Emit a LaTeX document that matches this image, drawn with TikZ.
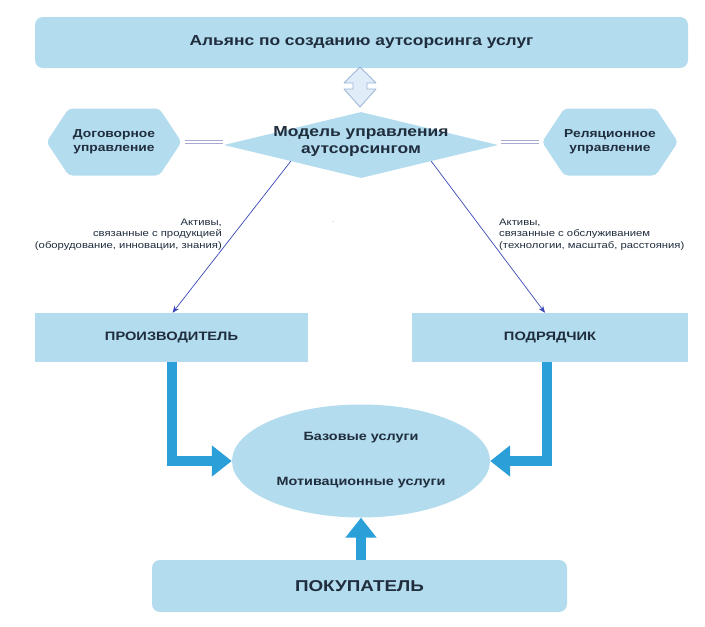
\documentclass[tikz,border=0pt]{standalone}
\usepackage{fontspec}
\setmainfont{Liberation Sans}[FakeStretch=1.2]
\usetikzlibrary{shapes.geometric,shapes.symbols,arrows.meta,calc}
\definecolor{boxfill}{HTML}{B3DCEE}
\definecolor{txt}{HTML}{1F2D3D}
\definecolor{thick}{HTML}{2A9FD8}
\definecolor{thin}{HTML}{3B46B8}
\definecolor{dlcol}{HTML}{A9A9D4}
\definecolor{hollowfill}{HTML}{E0ECF8}
\definecolor{hollowdraw}{HTML}{9BB5D6}
\begin{document}
\begin{tikzpicture}[x=1pt,y=-1pt,
  every node/.style={text=txt},
  roundbox/.style={fill=boxfill, rounded corners=8pt, inner sep=0pt},
  plainbox/.style={fill=boxfill, inner sep=0pt},
  hexbox/.style={signal, signal to=west and east, signal pointer angle=113, fill=boxfill, rounded corners=4pt, minimum width=135pt, minimum height=67pt, inner sep=0pt, align=center, font=\bfseries\fontsize{11.5}{14}\selectfont},
  smalllabel/.style={font=\fontsize{9.4}{11.2}\selectfont, inner sep=0pt},
  thinarrow/.style={draw=thin, line width=0.7pt, -{Stealth[length=7pt,width=5.5pt]}},
  thickarrow/.style={draw=thick, line width=10pt, -{Triangle[length=20pt,width=30pt]}},
  dline/.style={draw=dlcol, line width=0.8pt, double=white, double distance=2.2pt}
]
\useasboundingbox (0,0) rectangle (705,627);
\fill[white] (0,0) rectangle (705,627);

% top box
\node[roundbox, minimum width=653pt, minimum height=51pt, font=\bfseries\fontsize{14.5}{17}\selectfont] (top) at (361.5,42.5) {Альянс по созданию аутсорсинга услуг};

% diamond
\node[diamond, fill=boxfill, minimum width=274pt, minimum height=66pt, inner sep=0pt] (model) at (361,145) {};
\node[align=center, font=\bfseries\fontsize{14.5}{17}\selectfont, inner sep=0pt] (modeltext) at (361,142) {Модель управления\\аутсорсингом};

% hollow double arrow
\coordinate (ha) at (360,67);
\coordinate (hb) at (360,107);
\filldraw[fill=hollowfill, draw=hollowdraw, line width=0.8pt, line join=round]
  (ha) -- ($(ha)+(16,16)$) -- ($(ha)+(7,16)$) -- ($(hb)+(7,-18)$) -- ($(hb)+(16,-18)$) -- (hb)
  -- ($(hb)+(-16,-18)$) -- ($(hb)+(-7,-18)$) -- ($(ha)+(-7,16)$) -- ($(ha)+(-16,16)$) -- cycle;

% hexagons
\node[hexbox] (dog) at (114,142) {Договорное\\управление};
\node[hexbox] (rel) at (610,142) {Реляционное\\управление};

% double lines
\draw[dline] ($(dog.east)+(3,0)$) -- ($(dog.east)+(41,0)$) coordinate (dl);
\draw[dline] ($(rel.west)+(-3,0)$) -- ($(rel.west)+(-41,0)$) coordinate (dr);

% producer / contractor boxes
\node[plainbox, minimum width=273pt, minimum height=49pt, font=\bfseries\fontsize{12.2}{15}\selectfont] (prod) at (171.5,337.5) {ПРОИЗВОДИТЕЛЬ};
\node[plainbox, minimum width=276pt, minimum height=49pt, font=\bfseries\fontsize{12.2}{15}\selectfont] (podr) at (550,337.5) {ПОДРЯДЧИК};

% thin arrows
\draw[thinarrow] (model.193.5) -- ($(prod.north)+(1,0)$);
\draw[thinarrow] (model.-13.8) -- ($(podr.north)+(-5,0)$);

% labels
\node[smalllabel, align=right, anchor=north east] (lab1) at (222,219) {Активы,\\связанные с продукцией\\(оборудование, инновации, знания)};
\node[smalllabel, align=left, anchor=north west] (lab2) at (499,219) {Активы,\\связанные с обслуживанием\\(технологии, масштаб, расстояния)};
\node[inner sep=0pt, font=\fontsize{6}{6}\selectfont, text=gray] (dot) at (333,222) {.};

% ellipse
\node[ellipse, fill=boxfill, minimum width=258pt, minimum height=113pt, inner sep=0pt] (serv) at (361,461) {};
\node[font=\bfseries\fontsize{12}{14}\selectfont, inner sep=0pt] (base) at (361,438) {Базовые услуги};
\node[font=\bfseries\fontsize{12}{14}\selectfont, inner sep=0pt] (motiv) at (361,483) {Мотивационные услуги};

% buyer
\node[roundbox, minimum width=415pt, minimum height=52pt, font=\bfseries\fontsize{15.7}{19}\selectfont] (buyer) at (359.5,586) {ПОКУПАТЕЛЬ};

% thick arrows
\draw[thickarrow] (prod.south) |- (serv.west);
\draw[thickarrow] ($(podr.south)+(-3,0)$) |- (serv.east);
\draw[thickarrow] (buyer.north -| serv.south) -- (serv.south);
\end{tikzpicture}
\end{document}
